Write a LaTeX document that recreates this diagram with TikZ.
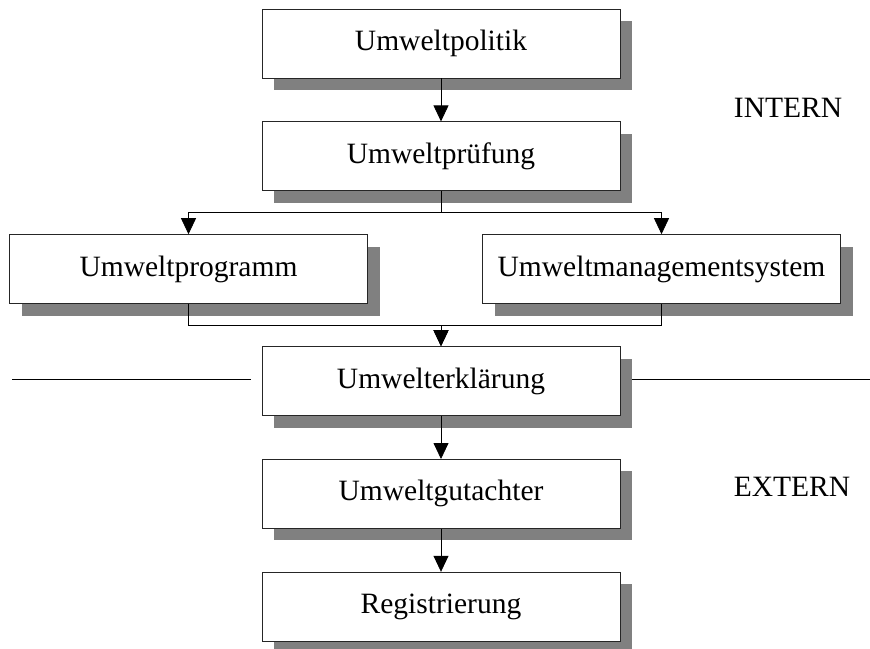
\documentclass[tikz,border=0pt]{standalone}
\usepackage{fontspec}
\setmainfont{Liberation Serif}
\usetikzlibrary{
  positioning,
  shadows,
  arrows.meta
}
\tikzset{
  node distance=43pt,
  box/.style={draw=black!85, line width=0.8pt, fill=white,
    minimum width=358pt, minimum height=69pt, inner sep=0pt,
    font=\fontsize{29.5}{35}\selectfont,
    general shadow={fill=black!50, shadow xshift=12pt, shadow yshift=-12pt}},
  conn/.style={line width=0.8pt, -{Triangle[width=15pt,length=16pt]}},
  plain/.style={line width=0.8pt},
  zone/.style={font=\fontsize{29.5}{35}\selectfont}
}

\begin{document}
\begin{tikzpicture}
    \useasboundingbox (0,0) rectangle (870pt,-648pt);
    \node[box] (pol) at (441pt,-43.5pt) {Umweltpolitik};
    \node[box, below=of pol] (pruef) {Umweltprüfung};
    \node[box, below=of pruef, xshift=-252.5pt] (prog) {Umweltprogramm};
    \node[box, below=of pruef, xshift=220.5pt] (mgmt) {Umweltmanagementsystem};
    \node[box, below=155pt of pruef] (erkl) {Umwelterklärung};
    \node[box, below=of erkl] (gut) {Umweltgutachter};
    \node[box, below=of gut] (reg) {Registrierung};
    \node[zone] (intern) at (788pt,-108pt) {INTERN};
    \node[zone] (extern) at (792pt,-487pt) {EXTERN};
    \coordinate (lend) at (12pt,-379pt);
    \coordinate (rend) at (870pt,-379pt);
    \draw[conn] (pol) -- (pruef);
    \draw[conn] (pruef.south) -- ++(0,-21.5pt) -| (prog.north);
    \draw[conn] (pruef.south) -- ++(0,-21.5pt) -| (mgmt.north);
    \draw[conn] (prog.south) -- ++(0,-21.5pt) -| (erkl.north);
    \draw[conn] (mgmt.south) -- ++(0,-21.5pt) -| (erkl.north);
    \draw[conn] (erkl) -- (gut);
    \draw[conn] (gut) -- (reg);
    \draw[plain] (erkl.west |- lend) ++(-11pt,0) -- (lend);
    \draw[plain] (erkl.east |- rend) ++(12pt,0) -- (rend);
  \end{tikzpicture}
\end{document}
